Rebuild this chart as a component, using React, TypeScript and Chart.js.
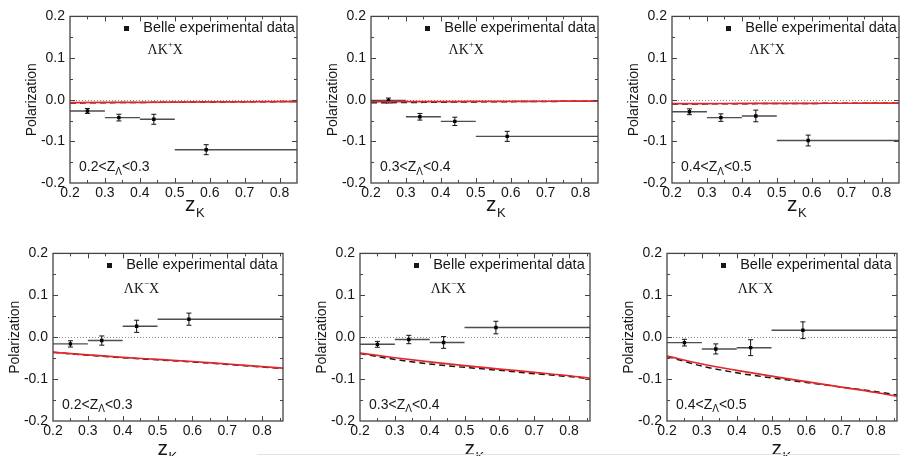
import React, { useEffect, useRef } from "react";
import { Chart, registerables } from "chart.js";

Chart.register(...registerables);

const SANS = '"Liberation Sans", Arial, Helvetica, sans-serif';
const SERIF = '"Liberation Serif", "Times New Roman", serif';
const RED = "#e3262b";
const INK = "#161616";

// ---- data ----
const pointZ = [0.25, 0.34, 0.44, 0.59];
const binLow = [0.2, 0.3, 0.4, 0.5];
const binHigh = [0.3, 0.4, 0.5, 1.0];
const curveZ = [0.2, 0.3, 0.4, 0.5, 0.6, 0.7, 0.8, 0.86];

const yTickValues = [-0.2, -0.1, 0.0, 0.1, 0.2];

// Lambda K+ X
const kPlusLowValues = [-0.027, -0.043, -0.047, -0.12];
const kPlusLowErrors = [0.006, 0.008, 0.012, 0.012];
const kPlusLowRed = [-0.007, -0.0066, -0.0062, -0.0058, -0.0054, -0.005, -0.0047, -0.0045];
const kPlusLowDashed = [-0.0078, -0.0072, -0.0066, -0.006, -0.0055, -0.005, -0.0046, -0.0044];

const kPlusMidValues = [-0.002, -0.041, -0.052, -0.088];
const kPlusMidErrors = [0.006, 0.008, 0.01, 0.012];
const kPlusMidRed = [-0.005, -0.0048, -0.0045, -0.0042, -0.004, -0.0037, -0.0035, -0.0033];
const kPlusMidDashed = [-0.0075, -0.0068, -0.006, -0.0053, -0.0047, -0.0042, -0.0037, -0.0035];

const kPlusHighValues = [-0.029, -0.043, -0.039, -0.098];
const kPlusHighErrors = [0.007, 0.009, 0.014, 0.013];
const kPlusHighRed = [-0.0095, -0.0093, -0.009, -0.0088, -0.0086, -0.0085, -0.0083, -0.0082];
const kPlusHighDashed = [-0.0105, -0.01, -0.0096, -0.0092, -0.0089, -0.0086, -0.0084, -0.0082];

// Lambda K- X
const kMinusLowValues = [-0.016, -0.008, 0.026, 0.043];
const kMinusLowErrors = [0.0075, 0.011, 0.0145, 0.0145];
const kMinusLowRed = [-0.036, -0.042, -0.048, -0.053, -0.058, -0.064, -0.07, -0.074];
const kMinusLowDashed = [-0.036, -0.043, -0.049, -0.054, -0.059, -0.065, -0.071, -0.075];

const kMinusMidValues = [-0.017, -0.0055, -0.0125, 0.023];
const kMinusMidErrors = [0.007, 0.01, 0.014, 0.015];
const kMinusMidRed = [-0.038, -0.049, -0.059, -0.068, -0.076, -0.084, -0.092, -0.098];
const kMinusMidDashed = [-0.039, -0.053, -0.064, -0.072, -0.079, -0.087, -0.094, -0.099];

const kMinusHighValues = [-0.013, -0.028, -0.025, 0.0166];
const kMinusHighErrors = [0.008, 0.012, 0.019, 0.02];
const kMinusHighRed = [-0.045, -0.064, -0.079, -0.093, -0.106, -0.119, -0.132, -0.141];
const kMinusHighDashed = [-0.046, -0.069, -0.085, -0.097, -0.108, -0.119, -0.13, -0.138];

const zLambdaBins = [
  ["0.2", "0.3"],
  ["0.3", "0.4"],
  ["0.4", "0.5"],
];

const legendText = "Belle experimental data";
const yTitle = "Polarization";

type Panel = {
  left: number;
  top: number;
  width: number;
  height: number;
  xMax: number;
  values: number[];
  errors: number[];
  red: number[];
  dashed: number[];
  charge: string;
  bin: string[];
  row: number;
};

const panels: Panel[] = [
  { left: 70, top: 15, width: 227, height: 168, xMax: 0.85, values: kPlusLowValues, errors: kPlusLowErrors, red: kPlusLowRed, dashed: kPlusLowDashed, charge: "+", bin: zLambdaBins[0], row: 0 },
  { left: 371, top: 15, width: 227, height: 168, xMax: 0.85, values: kPlusMidValues, errors: kPlusMidErrors, red: kPlusMidRed, dashed: kPlusMidDashed, charge: "+", bin: zLambdaBins[1], row: 0 },
  { left: 672, top: 15, width: 227, height: 168, xMax: 0.85, values: kPlusHighValues, errors: kPlusHighErrors, red: kPlusHighRed, dashed: kPlusHighDashed, charge: "+", bin: zLambdaBins[2], row: 0 },
  { left: 53, top: 252, width: 230, height: 169, xMax: 0.86, values: kMinusLowValues, errors: kMinusLowErrors, red: kMinusLowRed, dashed: kMinusLowDashed, charge: "\u2212", bin: zLambdaBins[0], row: 1 },
  { left: 360, top: 252, width: 230, height: 169, xMax: 0.86, values: kMinusMidValues, errors: kMinusMidErrors, red: kMinusMidRed, dashed: kMinusMidDashed, charge: "\u2212", bin: zLambdaBins[1], row: 1 },
  { left: 667, top: 252, width: 230, height: 169, xMax: 0.86, values: kMinusHighValues, errors: kMinusHighErrors, red: kMinusHighRed, dashed: kMinusHighDashed, charge: "\u2212", bin: zLambdaBins[2], row: 1 },
];

const PAD_LEFT = 50;
const PAD_TOP = 12;
const PAD_RIGHT = 6;
const AXIS_H = 20;
const PAD_BOTTOM = 22;

function fmt(v: number) {
  return Math.abs(v) < 1e-9 ? "0.0" : Number(v).toFixed(1);
}

function makeDecor(p: Panel) {
  return {
    id: "panelDecor",
    beforeDatasetsDraw(chart: any) {
      const { ctx, chartArea: a } = chart;
      const x = chart.scales.x;
      const y = chart.scales.y;
      ctx.save();
      ctx.beginPath();
      ctx.rect(a.left, a.top, a.right - a.left, a.bottom - a.top);
      ctx.clip();
      // zero reference line
      ctx.beginPath();
      ctx.strokeStyle = "#8c8c8c";
      ctx.lineWidth = 1;
      ctx.setLineDash([1, 2]);
      const y0 = Math.round(y.getPixelForValue(0)) + 0.5;
      ctx.moveTo(a.left, y0);
      ctx.lineTo(a.right, y0);
      ctx.stroke();
      ctx.setLineDash([]);
      // error bars
      for (let i = 0; i < p.values.length; i++) {
        const py = y.getPixelForValue(p.values[i]);
        const px = x.getPixelForValue(pointZ[i]);
        ctx.beginPath();
        ctx.strokeStyle = "#4d4d4d";
        ctx.lineWidth = 1.4;
        ctx.moveTo(x.getPixelForValue(binLow[i]), py);
        ctx.lineTo(x.getPixelForValue(binHigh[i]), py);
        ctx.stroke();
        const yt = y.getPixelForValue(p.values[i] + p.errors[i]);
        const yb = y.getPixelForValue(p.values[i] - p.errors[i]);
        ctx.beginPath();
        ctx.strokeStyle = "#111";
        ctx.lineWidth = 1;
        ctx.moveTo(px, yt);
        ctx.lineTo(px, yb);
        ctx.moveTo(px - 2.5, yt);
        ctx.lineTo(px + 2.5, yt);
        ctx.moveTo(px - 2.5, yb);
        ctx.lineTo(px + 2.5, yb);
        ctx.stroke();
      }
      ctx.restore();
    },
    afterDraw(chart: any) {
      const { ctx, chartArea: a } = chart;
      const x = chart.scales.x;
      const y = chart.scales.y;
      ctx.save();
      // frame
      ctx.strokeStyle = "#444";
      ctx.lineWidth = 1.3;
      ctx.strokeRect(a.left, a.top, a.right - a.left, a.bottom - a.top);
      // inward ticks every 0.05
      ctx.beginPath();
      ctx.lineWidth = 1;
      for (let k = 5; k * 0.05 < p.xMax - 1e-6; k++) {
        const px = Math.round(x.getPixelForValue(k * 0.05)) + 0.5;
        const len = k % 2 === 0 ? 5 : 3;
        ctx.moveTo(px, a.bottom);
        ctx.lineTo(px, a.bottom - len);
        ctx.moveTo(px, a.top);
        ctx.lineTo(px, a.top + len);
      }
      for (let k = -3; k <= 3; k++) {
        const py = Math.round(y.getPixelForValue(k * 0.05)) + 0.5;
        const len = k % 2 === 0 ? 5 : 3;
        ctx.moveTo(a.left, py);
        ctx.lineTo(a.left + len, py);
        ctx.moveTo(a.right, py);
        ctx.lineTo(a.right - len, py);
      }
      ctx.stroke();

      ctx.fillStyle = INK;
      ctx.textBaseline = "middle";
      ctx.textAlign = "left";
      // legend
      const ly = y.getPixelForValue(0.173);
      const lx = x.getPixelForValue(0.36);
      ctx.fillRect(Math.round(lx) - 2, Math.round(ly) - 2, 5, 5);
      ctx.font = `14.5px ${SANS}`;
      ctx.fillText(legendText, x.getPixelForValue(0.41), ly + 0.5);

      // channel label  Lambda K(charge) X
      const cx = x.getPixelForValue(p.row === 0 ? 0.422 : 0.403);
      const cy = y.getPixelForValue(p.row === 0 ? 0.119 : 0.115);
      ctx.font = `14px ${SERIF}`;
      const w = ctx.measureText("\u039BK").width;
      ctx.fillText("\u039BK", cx, cy);
      ctx.font = `9px ${SERIF}`;
      ctx.fillText(p.charge, cx + w, cy - 5);
      const wc = ctx.measureText(p.charge).width;
      ctx.font = `14px ${SERIF}`;
      ctx.fillText("X", cx + w + wc, cy);

      // z_Lambda range label
      const rx = x.getPixelForValue(0.226);
      const ry = y.getPixelForValue(-0.161);
      ctx.font = `14px ${SANS}`;
      const s1 = `${p.bin[0]}<Z`;
      ctx.fillText(s1, rx, ry);
      let off = ctx.measureText(s1).width;
      ctx.font = `10px ${SANS}`;
      ctx.fillText("\u039B", rx + off, ry + 5);
      off += ctx.measureText("\u039B").width;
      ctx.font = `14px ${SANS}`;
      ctx.fillText(`<${p.bin[1]}`, rx + off, ry);

      // x axis title z_K
      ctx.textBaseline = "alphabetic";
      ctx.font = `21px ${SANS}`;
      const wz = ctx.measureText("z").width;
      ctx.font = `13px ${SANS}`;
      const wk = ctx.measureText("K").width;
      const center = (a.left + a.right) / 2 + (p.row === 0 ? 11 : -1);
      const base = a.bottom + (p.row === 0 ? 28 : 34);
      const sx = center - (wz + wk) / 2;
      ctx.font = `21px ${SANS}`;
      ctx.fillText("z", sx, base);
      ctx.font = `13px ${SANS}`;
      ctx.fillText("K", sx + wz + 0.5, base + 6);
      ctx.restore();
    },
  };
}

function PanelChart({ p }: { p: Panel }) {
  const ref = useRef<HTMLCanvasElement | null>(null);
  const W = PAD_LEFT + p.width + PAD_RIGHT;
  const H = PAD_TOP + p.height + AXIS_H + PAD_BOTTOM;

  useEffect(() => {
    if (!ref.current) return;
    const chart = new Chart(ref.current, {
      type: "scatter",
      data: {
        datasets: [
          {
            type: "line",
            data: curveZ.map((z, i) => ({ x: z, y: p.red[i] })),
            borderColor: RED,
            borderWidth: 1.7,
            pointRadius: 0,
            cubicInterpolationMode: "monotone",
            fill: false,
          } as any,
          {
            type: "line",
            data: curveZ.map((z, i) => ({ x: z, y: p.dashed[i] })),
            borderColor: "#141414",
            borderWidth: 1.5,
            borderDash: [6, 4],
            pointRadius: 0,
            cubicInterpolationMode: "monotone",
            fill: false,
          } as any,
          {
            type: "scatter",
            data: pointZ.map((z, i) => ({ x: z, y: p.values[i] })),
            pointStyle: "rect",
            pointRadius: 2.4,
            backgroundColor: "#000",
            borderColor: "#000",
            borderWidth: 0,
          } as any,
        ],
      },
      options: {
        animation: false,
        responsive: false,
        maintainAspectRatio: false,
        devicePixelRatio: 1,
        events: [],
        layout: { padding: { left: 0, top: PAD_TOP, right: PAD_RIGHT, bottom: PAD_BOTTOM } },
        plugins: { legend: { display: false }, tooltip: { enabled: false } },
        scales: {
          x: {
            type: "linear",
            min: 0.2,
            max: p.xMax,
            grid: { display: false, drawTicks: false },
            border: { display: false },
            ticks: {
              stepSize: 0.1,
              includeBounds: false,
              autoSkip: false,
              maxRotation: 0,
              padding: 2,
              color: INK,
              font: { family: SANS, size: 14 },
              callback: (v: any) => fmt(Number(v)),
            },
            afterFit: (s: any) => {
              s.height = AXIS_H;
            },
          },
          y: {
            type: "linear",
            min: -0.2,
            max: 0.2,
            afterBuildTicks: (s: any) => {
              s.ticks = yTickValues.map((v) => ({ value: v }));
            },
            grid: { display: false, drawTicks: false },
            border: { display: false },
            ticks: {
              padding: 5,
              color: INK,
              font: { family: SANS, size: 14 },
              callback: (v: any) => fmt(Number(v)),
            },
            title: {
              display: true,
              text: yTitle,
              color: INK,
              font: { family: SANS, size: 14 },
              padding: { top: 3.6, bottom: 0 },
            },
            afterFit: (s: any) => {
              s.width = PAD_LEFT;
            },
          },
        },
      } as any,
      plugins: [makeDecor(p)],
    });
    return () => chart.destroy();
  }, [p]);

  return (
    <canvas
      ref={ref}
      width={W}
      height={H}
      style={{
        position: "absolute",
        left: p.left - PAD_LEFT,
        top: p.top - PAD_TOP,
        width: W,
        height: H,
      }}
    />
  );
}

export default function App() {
  return (
    <div
      style={{
        position: "fixed",
        left: 0,
        top: 0,
        width: 900,
        height: 456,
        overflow: "hidden",
        background: "#fff",
      }}
    >
      {panels.map((p, i) => (
        <PanelChart key={i} p={p} />
      ))}
      <div
        style={{
          position: "absolute",
          left: 257,
          top: 454,
          width: 643,
          height: 1,
          background: "#e2e2e2",
        }}
      />
    </div>
  );
}
